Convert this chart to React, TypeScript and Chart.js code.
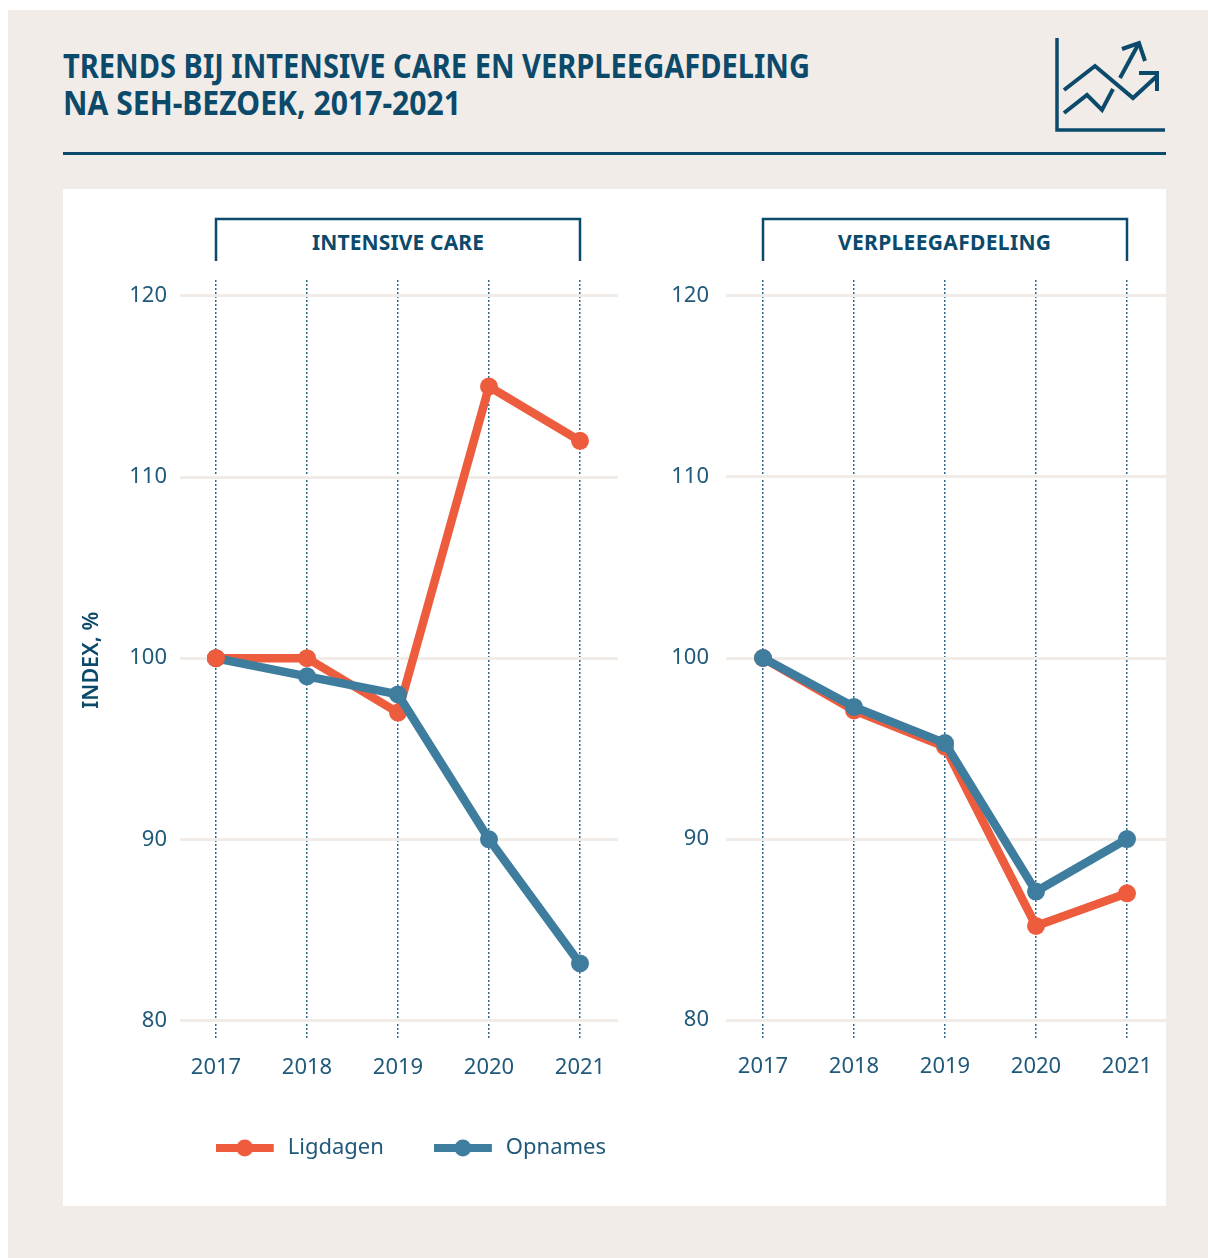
import React, { useEffect, useRef } from "react";
import { Chart, registerables } from "chart.js";

Chart.register(...registerables);

const years = [2017, 2018, 2019, 2020, 2021];
const yTicks = [80, 90, 100, 110, 120];
const icLigdagen = [100, 100, 97, 115, 112];
const icOpnames = [100, 99, 98, 90, 83.15];
const vpLigdagen = [100, 97.1, 95.1, 85.2, 87];
const vpOpnames = [100, 97.3, 95.3, 87.1, 90];
const titleLines = ["TRENDS BIJ INTENSIVE CARE EN VERPLEEGAFDELING", "NA SEH-BEZOEK, 2017-2021"];

const NAVY = "#0b4a6b";
const TICK = "#20597a";
const ORANGE = "#ee5c3e";
const BLUE = "#3f7d9f";
const FONT = '"Noto Sans", sans-serif';

function legendMark(color: string) {
  const c = document.createElement("canvas");
  c.width = 61;
  c.height = 18;
  const g = c.getContext("2d")!;
  g.fillStyle = color;
  g.fillRect(0, 5, 58, 8);
  g.beginPath();
  g.arc(29, 9, 8.5, 0, Math.PI * 2);
  g.fill();
  return c;
}

function makeChart(
  canvas: HTMLCanvasElement,
  ligdagen: number[],
  opnames: number[],
  o: {
    xMin: number;
    xMax: number;
    yWidth: number;
    tickPad: number;
    legend: boolean;
    axisTitle: boolean;
    xHeight: number;
    firstPointOnTop: boolean;
  }
) {
  const series = (label: string, data: number[], color: string, order: number) => ({
    label,
    order,
    data: years.map((y, i) => ({ x: y, y: data[i] })),
    borderColor: color,
    backgroundColor: color,
    borderWidth: 8.5,
    pointRadius: 9,
    pointBackgroundColor: color,
    pointBorderWidth: 0,
    tension: 0,
    clip: false as const,
  });
  const tweaks = {
    id: "tweaks",
    afterLayout(chart: any) {
      if (o.legend && chart.legend) {
        chart.legend.left += 38;
        chart.legend.right += 38;
      }
    },
    afterDatasetsDraw(chart: any) {
      if (o.firstPointOnTop) chart.getDatasetMeta(0).data[0].draw(chart.ctx);
    },
  };
  const noOverflow = (s: any) => {
    s.paddingTop = 0;
    s.paddingBottom = 0;
    s.paddingLeft = 0;
    s.paddingRight = 0;
  };
  return new Chart(canvas, {
    type: "line",
    data: {
      datasets: [series("Ligdagen", ligdagen, ORANGE, 1), series("Opnames", opnames, BLUE, 0)],
    },
    plugins: [tweaks],
    options: {
      animation: false,
      responsive: false,
      layout: { autoPadding: false, padding: { top: 10, left: 0, right: 0, bottom: 0 } },
      plugins: {
        tooltip: { enabled: false },
        legend: {
          display: o.legend,
          position: "bottom",
          align: "end",
          labels: {
            usePointStyle: true,
            pointStyleWidth: 61,
            boxHeight: 18,
            padding: 50,
            color: TICK,
            font: { family: FONT, size: 22 },
            generateLabels: (chart: any) =>
              chart.data.datasets.map((d: any, i: number) => ({
                text: d.label,
                fontColor: TICK,
                datasetIndex: i,
                pointStyle: legendMark(d.borderColor),
                lineWidth: 0,
                strokeStyle: "transparent",
                fillStyle: "transparent",
              })),
          },
        },
      },
      scales: {
        x: {
          type: "linear",
          min: o.xMin,
          max: o.xMax,
          afterBuildTicks: (s: any) => {
            s.ticks = years.map((v) => ({ value: v }));
          },
          afterFit: (s: any) => {
            s.height = o.xHeight;
            noOverflow(s);
          },
          border: { display: false, dash: [2, 2] },
          grid: { color: "#2f6a8c", lineWidth: 1.5, drawTicks: false },
          ticks: {
            color: TICK,
            font: { family: FONT, size: 22 },
            padding: 14,
            maxRotation: 0,
            autoSkip: false,
            callback: (v: any) => String(v),
          },
        },
        y: {
          type: "linear",
          min: 78.9,
          max: 120.88,
          afterBuildTicks: (s: any) => {
            s.ticks = yTicks.map((v) => ({ value: v }));
          },
          afterFit: (s: any) => {
            s.width = o.yWidth;
            noOverflow(s);
          },
          border: { display: false },
          grid: { color: "#f1ece7", lineWidth: 3, drawTicks: false, z: -1 },
          ticks: {
            color: TICK,
            font: { family: FONT, size: 22 },
            padding: o.tickPad,
            callback: (v: any) => String(v),
          },
          title: {
            display: o.axisTitle,
            text: "INDEX, %",
            color: NAVY,
            font: { family: FONT, size: 21.5, weight: 600 as any },
            padding: { top: 9, bottom: 0 },
          },
        },
      },
    },
  } as any);
}

export default function App() {
  const left = useRef<HTMLCanvasElement>(null);
  const right = useRef<HTMLCanvasElement>(null);

  useEffect(() => {
    const a = makeChart(left.current!, icLigdagen, icOpnames, {
      xMin: 2017 - 36 / 91,
      xMax: 2021 + 38 / 91,
      yWidth: 110,
      tickPad: 13,
      legend: true,
      axisTitle: true,
      xHeight: 46.6,
      firstPointOnTop: true,
    });
    const b = makeChart(right.current!, vpLigdagen, vpOpnames, {
      xMin: 2017 - 37 / 91,
      xMax: 2021 + 39 / 91,
      yWidth: 100,
      tickPad: 17,
      legend: false,
      axisTitle: false,
      xHeight: 60,
      firstPointOnTop: false,
    });
    return () => {
      a.destroy();
      b.destroy();
    };
  }, []);

  return (
    <div style={{ position: "absolute", left: 0, top: 0, width: 1208, height: 1258, overflow: "hidden", background: "#fff" }}>
      <div style={{ position: "absolute", left: 8, top: 10, width: 1200, height: 1248, background: "#f1ece8" }} />
      <div style={{ position: "absolute", left: 63, top: 189, width: 1103, height: 1017, background: "#fff" }} />
      <svg width={1208} height={1258} style={{ position: "absolute", left: 0, top: 0 }}>
        <g fontFamily={FONT} fontWeight={700} fontSize={34} fill={NAVY}>
          <text x={63} y={78} textLength={747} lengthAdjust="spacingAndGlyphs">{titleLines[0]}</text>
          <text x={63} y={115} textLength={398} lengthAdjust="spacingAndGlyphs">{titleLines[1]}</text>
        </g>
        <rect x={63} y={152} width={1103} height={3} fill={NAVY} />
        <g fill="none" stroke={NAVY}>
          <path d="M1057 38V130H1165" strokeWidth={3.5} />
          <g strokeWidth={4} strokeLinejoin="miter">
            <path d="M1064 90L1095 66L1133 98L1157 76" />
            <path d="M1139 73H1157V91" />
            <path d="M1064 113L1087 95L1102 110L1113 89" />
            <path d="M1120 78L1139 43" />
            <path d="M1122 49L1139 43L1145 61" />
          </g>
        </g>
        <g fill="none" stroke={NAVY} strokeWidth={2.5}>
          <path d="M216 261V219H580V261" />
          <path d="M763 261V219H1127V261" />
        </g>
        <g fontFamily={FONT} fontWeight={700} fontSize={21} fill={NAVY}>
          <text x={312} y={250} textLength={172} lengthAdjust="spacing">INTENSIVE CARE</text>
          <text x={838} y={250} textLength={213} lengthAdjust="spacing">VERPLEEGAFDELING</text>
        </g>
      </svg>
      <canvas ref={left} width={548} height={899} style={{ position: "absolute", left: 70, top: 270 }} />
      <canvas ref={right} width={540} height={830} style={{ position: "absolute", left: 626, top: 270 }} />
    </div>
  );
}
